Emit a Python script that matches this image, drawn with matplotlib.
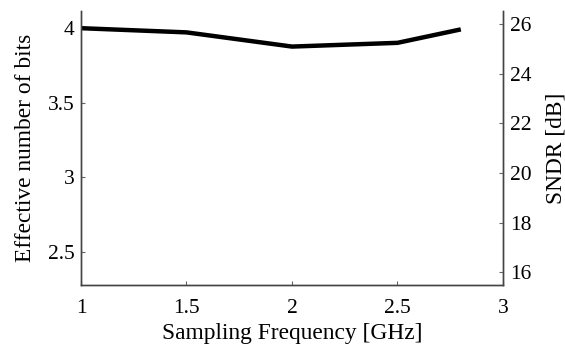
import matplotlib
matplotlib.use("Agg")
import matplotlib.pyplot as plt

# data
freq_ghz = [1.0, 1.5, 2.0, 2.5, 2.8]
enob = [3.998, 3.97, 3.875, 3.90, 3.99]

x_ticks = [1, 1.5, 2, 2.5, 3]
enob_ticks = [2.5, 3, 3.5, 4]
sndr_ticks = [16, 18, 20, 22, 24, 26]


def enob_to_sndr(e):
    return 6.02 * e + 1.76


plt.rcParams.update({
    'font.family': 'serif',
    'font.serif': ['Liberation Serif', 'DejaVu Serif'],
    'font.size': 16,
})

fig = plt.figure(figsize=(5.65, 3.47), dpi=100)
ax = fig.add_axes([81 / 565, 1 - 285 / 347, (503 - 81) / 565, (285 - 11) / 347])

ax.plot(freq_ghz, enob, color='black', linewidth=3.2, solid_capstyle='butt')
ax.set_xlim(1, 3)
ax.set_ylim(2.28, 4.113)
ax.set_xticks(x_ticks)
ax.set_xticklabels(['1', '1.5', '2', '2.5', '3'])
ax.set_yticks(enob_ticks)
ax.set_yticklabels(['2.5', '3', '3.5', '4'])
ax.set_xlabel('Sampling Frequency [GHz]', fontsize=16.8, labelpad=4)
ax.set_ylabel('Effective number of bits', fontsize=16.8, labelpad=8.5)

ax2 = ax.twinx()
ax2.set_ylim(enob_to_sndr(2.28), enob_to_sndr(4.113))
ax2.set_yticks(sndr_ticks)
ax2.set_ylabel('SNDR [dB]', fontsize=16.8, labelpad=9.5)

for a in (ax, ax2):
    a.spines['top'].set_visible(False)
    for s in a.spines.values():
        s.set_color('#444444')
        s.set_linewidth(1.0)
    a.tick_params(direction='in', length=3, width=0.8, color='#666666',
                  labelsize=15.5, pad=4.5)
ax2.tick_params(axis='y', pad=5.3)
ax.tick_params(axis='x', pad=10)

fig.savefig('out.png', dpi=100, facecolor='white')
